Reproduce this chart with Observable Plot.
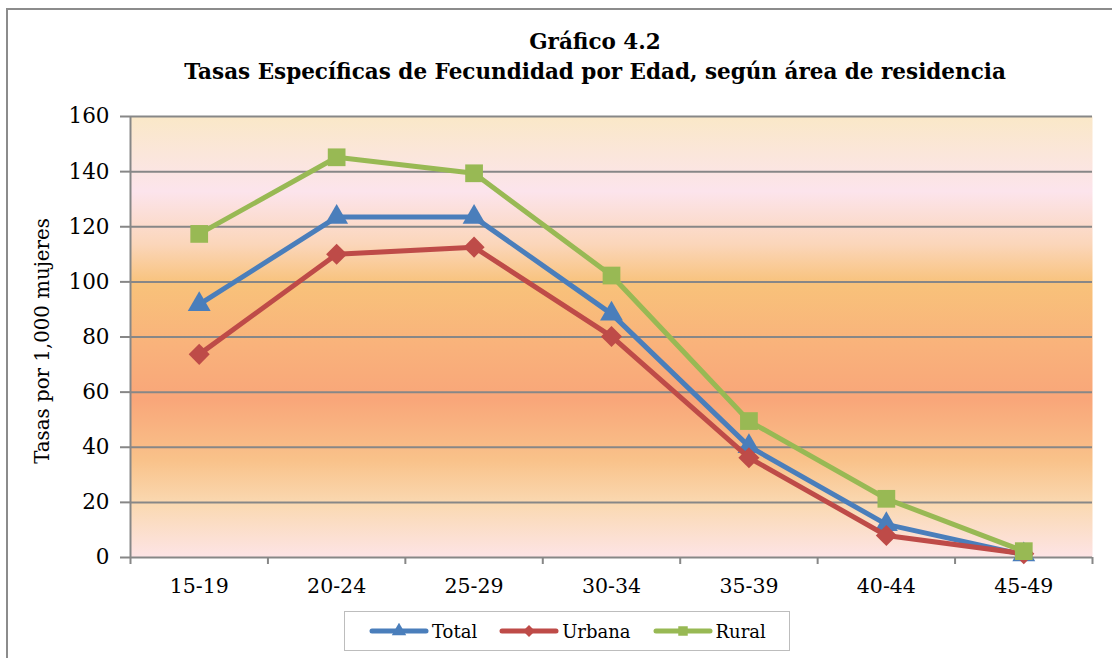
<!DOCTYPE html>
<html>
<head>
<meta charset="utf-8">
<script src="https://cdn.jsdelivr.net/npm/d3@7"></script>
<script src="https://cdn.jsdelivr.net/npm/@observablehq/plot@0.6"></script>
<style>
  html, body { margin: 0; padding: 0; background: #fff; width: 1112px; height: 658px; overflow: hidden; }
  #frame { position: absolute; left: 6px; top: 8px; width: 1130px; height: 680px; border: 2px solid #8c8c8c; box-sizing: border-box; }
  #title { position: absolute; left: 0; top: 27px; width: 1190px; text-align: center; font-family: "DejaVu Serif", serif; font-weight: bold; font-size: 21.5px; line-height: 30px; color: #000; }
  #chart { position: absolute; left: 0; top: 100px; }
  #legend { position: absolute; left: 344px; top: 611px; width: 446px; height: 40px; border: 1.5px solid #bdbdbd; box-sizing: border-box; display: flex; align-items: center; padding-left: 24px; font-family: "DejaVu Serif", serif; font-size: 18px; }
  .item { display: flex; align-items: center; margin-right: 22px; }
  .item svg { margin-right: 3px; }
</style>
</head>
<body>
<div id="frame"></div>
<div id="title">Gráfico 4.2<br>Tasas Específicas de Fecundidad por Edad, según área de residencia</div>
<div id="chart"></div>
<div id="legend"></div>
<script>
const categories = ["15-19", "20-24", "25-29", "30-34", "35-39", "40-44", "45-49"];
const seriesNames = ["Total", "Urbana", "Rural"];
const totalValues = [91.8, 123.5, 123.5, 88.4, 40.3, 12.0, 1.0];
const urbanaValues = [73.7, 110.0, 112.6, 80.2, 36.2, 8.0, 1.4];
const ruralValues = [117.4, 145.2, 139.4, 102.3, 49.5, 21.3, 2.3];
const yTicks = [0, 20, 40, 60, 80, 100, 120, 140, 160];
const yLabel = "Tasas por 1,000 mujeres";
const colors = {Total: "#4A7EBB", Urbana: "#BE4B48", Rural: "#98B954"};
const symbols = {Total: "triangle", Urbana: "diamond2", Rural: "square"};
const radii = {Total: 8.5, Urbana: 9.5, Rural: 10};

const valuesBySeries = {Total: totalValues, Urbana: urbanaValues, Rural: ruralValues};
const data = seriesNames.flatMap(s => categories.map((c, i) => ({series: s, idx: i, cat: c, value: valuesBySeries[s][i]})));
const boundaries = d3.range(categories.length + 1).map(i => i - 0.5);

const font = '"DejaVu Serif", serif';

const gradMark = () => {
  const defs = d3.create("svg:defs");
  const g = defs.append("linearGradient").attr("id", "bgGrad").attr("x1", 0).attr("y1", 0).attr("x2", 0).attr("y2", 1);
  const stops = [
    [0, "#FAE8C8"], [0.17, "#FCE4EC"], [0.29, "#FBD6BA"], [0.38, "#F8C27A"],
    [0.52, "#F9B27B"], [0.64, "#F9A679"], [0.78, "#F9C28A"], [0.88, "#FAD9B2"], [1, "#FDE4E6"]
  ];
  for (const [o, c] of stops) g.append("stop").attr("offset", o).attr("stop-color", c);
  return defs.node();
};

const marks = [
  gradMark,
  Plot.frame({fill: "url(#bgGrad)", stroke: "none"}),
  Plot.ruleY(yTicks.filter(d => d > 0), {stroke: "#878787", strokeWidth: 2}),
  Plot.ruleY([0], {stroke: "#878787", strokeWidth: 2}),
  Plot.ruleX([-0.5], {stroke: "#878787", strokeWidth: 2}),
  Plot.axisY({ticks: yTicks, tickSize: 10, tickPadding: 11, stroke: "#878787", strokeWidth: 2, strokeOpacity: 1, fontSize: 21.5, fontFamily: font, fill: "#000", label: null}),
  Plot.text([yLabel], {frameAnchor: "left", rotate: -90, dx: -88, dy: 4, fontSize: 19.8, fontFamily: font, fill: "#000", textAnchor: "middle"}),
  Plot.axisX({ticks: boundaries, tickSize: 7, tickFormat: () => "", stroke: "#878787", strokeWidth: 2, strokeOpacity: 1, label: null}),
  Plot.axisX({ticks: d3.range(categories.length), tickSize: 0, tickPadding: 21, tickFormat: i => categories[i], fontSize: 20.5, fontFamily: font, fill: "#000", label: null})
];
for (const s of seriesNames) {
  const d = data.filter(r => r.series === s);
  marks.push(Plot.line(d, {x: "idx", y: "value", stroke: colors[s], strokeWidth: 5, strokeLinejoin: "round", strokeLinecap: "round"}));
  marks.push(Plot.dot(d, {x: "idx", y: "value", symbol: () => symbols[s], fill: colors[s], r: radii[s], stroke: "none"}));
}

const chart = Plot.plot({
  width: 1112,
  height: 520,
  marginLeft: 130,
  marginRight: 20,
  marginTop: 16,
  marginBottom: 63,
  style: {background: "transparent", fontFamily: font, fontSize: "18px", color: "#000"},
  x: {type: "linear", domain: [-0.5, categories.length - 0.5], axis: null},
  y: {domain: [0, 160], axis: null},
  symbol: {type: "identity"},
  marks
});
document.getElementById("chart").appendChild(chart);

const legend = document.getElementById("legend");
for (const s of seriesNames) {
  const item = document.createElement("div");
  item.className = "item";
  const sv = d3.create("svg").attr("width", 60).attr("height", 16);
  sv.append("line").attr("x1", 3).attr("x2", 57).attr("y1", 8).attr("y2", 8).attr("stroke", colors[s]).attr("stroke-width", 5).attr("stroke-linecap", "round");
  const sym = {triangle: d3.symbolTriangle, diamond2: d3.symbolDiamond2, square: d3.symbolSquare}[symbols[s]];
  sv.append("path").attr("d", d3.symbol(sym, 90)()).attr("transform", "translate(30,8)").attr("fill", colors[s]);
  item.appendChild(sv.node());
  const t = document.createElement("span");
  t.textContent = s;
  item.appendChild(t);
  legend.appendChild(item);
}
</script>
</body>
</html>
